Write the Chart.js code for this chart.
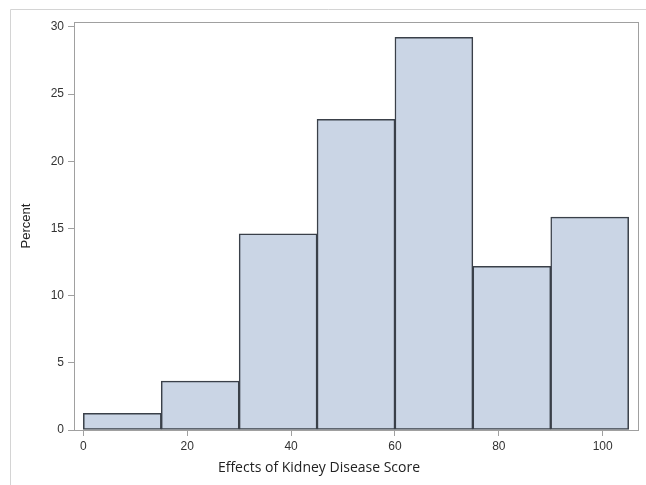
<!DOCTYPE html>
<html>
<head>
<meta charset="utf-8">
<script src="https://cdn.jsdelivr.net/npm/chart.js@4.4.1/dist/chart.umd.min.js"></script>
<style>
  html, body { margin: 0; padding: 0; background: #fff; }
  #wrap { width: 646px; height: 485px; }
</style>
</head>
<body>
<div id="wrap"><canvas id="hist"></canvas></div>
<script>
// bin midpoints (bin width 15) and percent per bin
const binMids = [7.5, 22.5, 37.5, 52.5, 67.5, 82.5, 97.5];
const percents = [1.24, 3.64, 14.61, 23.13, 29.22, 12.18, 15.85];
const xTicks = [0, 20, 40, 60, 80, 100];
const yTicks = [0, 5, 10, 15, 20, 25, 30];

const xLabel = "Effects of Kidney Disease Score";
const yLabel = "Percent";

// outer frame + plot frame + x title
const framePlugin = {
  id: "framePlugin",
  beforeDraw(chart) {
    const ctx = chart.ctx;
    ctx.save();
    ctx.strokeStyle = "#d4d4d4";
    ctx.lineWidth = 1;
    ctx.beginPath();
    ctx.moveTo(10.5, 485);
    ctx.lineTo(10.5, 9.5);
    ctx.lineTo(646, 9.5);
    ctx.stroke();
    ctx.restore();
  },
  afterDraw(chart) {
    const ctx = chart.ctx;
    const a = chart.chartArea;
    ctx.save();
    ctx.strokeStyle = "#a0a0a0";
    ctx.lineWidth = 1;
    ctx.strokeRect(Math.round(a.left) + 0.5, Math.round(a.top) + 0.5,
      Math.round(a.right - a.left), Math.round(a.bottom - a.top));
    ctx.fillStyle = "#222";
    ctx.font = "14px 'Open Sans', sans-serif";
    ctx.textAlign = "center";
    ctx.textBaseline = "middle";
    ctx.fillText(xLabel, 319, 468);
    ctx.restore();
  }
};

new Chart(document.getElementById("hist"), {
  type: "bar",
  data: {
    datasets: [{
      data: binMids.map((x, i) => ({ x: x, y: percents[i] })),
      backgroundColor: "#cad5e5",
      borderColor: "#3a4049",
      borderWidth: 1.5,
      borderSkipped: false,
      barPercentage: 1,
      categoryPercentage: 1
    }]
  },
  options: {
    responsive: true,
    maintainAspectRatio: false,
    animation: false,
    layout: { padding: { top: 22, right: 8, left: 0, bottom: 0 } },
    plugins: { legend: { display: false }, tooltip: { enabled: false } },
    scales: {
      x: {
        type: "linear",
        offset: false,
        min: -1.8,
        max: 106.8,
        afterBuildTicks: s => { s.ticks = xTicks.map(v => ({ value: v })); },
        afterFit: s => { s.height = 55; },
        grid: { offset: false, drawOnChartArea: false, drawTicks: true, tickLength: 6, color: "#a0a0a0" },
        border: { display: true, color: "#a0a0a0" },
        ticks: { color: "#333", padding: 3, font: { family: "'Liberation Sans', Arial, sans-serif", size: 12 } }
      },
      y: {
        min: 0,
        max: 30.37,
        afterBuildTicks: s => { s.ticks = yTicks.map(v => ({ value: v })); },
        afterFit: s => { s.width = 74; },
        grid: { drawOnChartArea: false, drawTicks: true, tickLength: 6, color: "#a0a0a0" },
        border: { display: true, color: "#a0a0a0" },
        ticks: { color: "#333", padding: 4, font: { family: "'Liberation Sans', Arial, sans-serif", size: 12 } },
        title: {
          display: true,
          text: yLabel,
          color: "#222",
          padding: { top: 19, bottom: 0 },
          font: { family: "'Liberation Sans', Arial, sans-serif", size: 13 }
        }
      }
    }
  },
  plugins: [framePlugin]
});
</script>
</body>
</html>
